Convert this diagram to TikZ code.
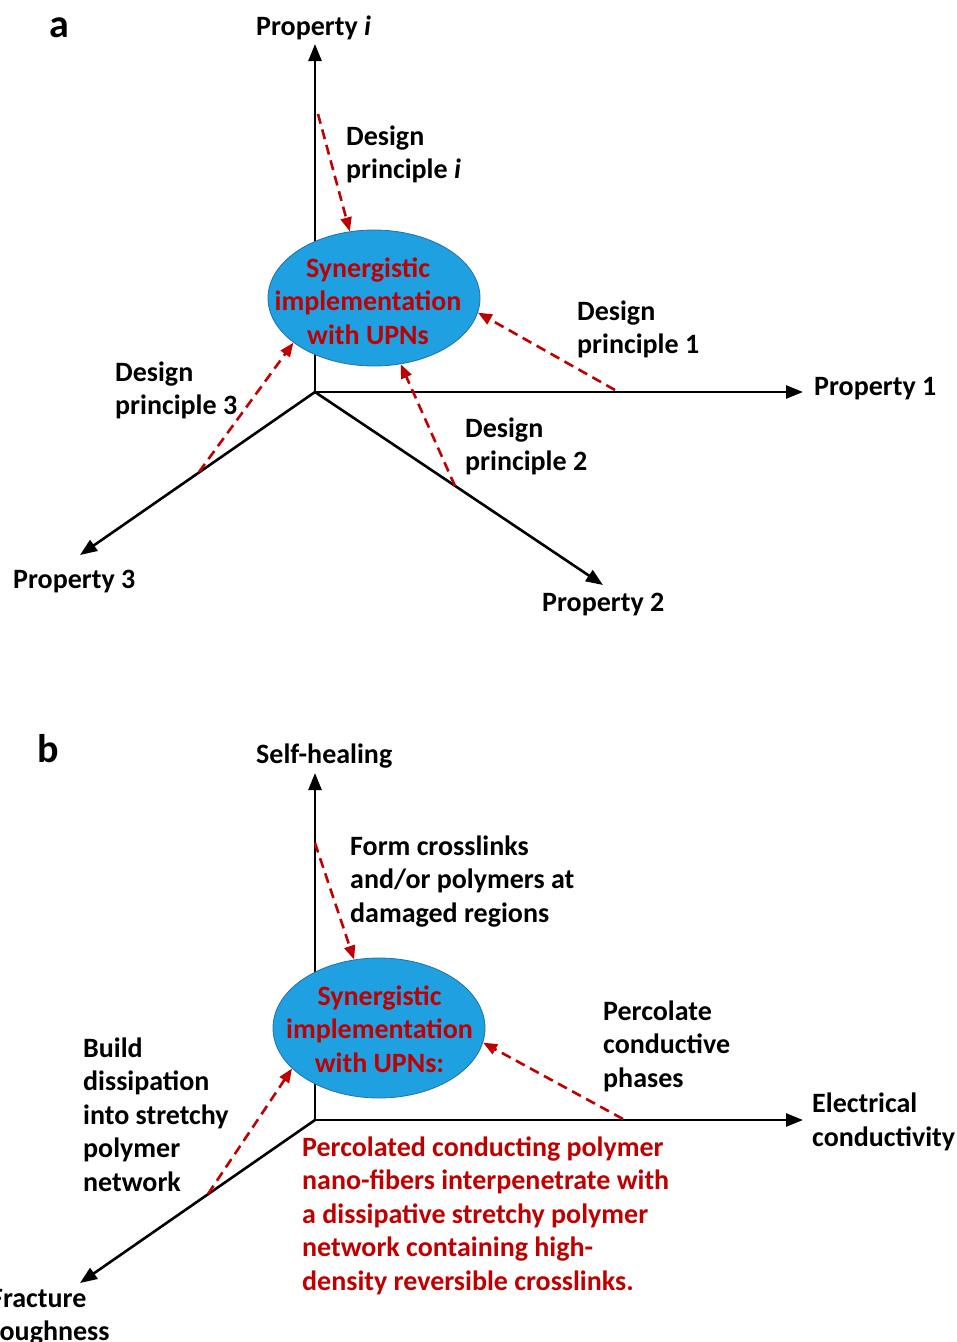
\documentclass[tikz,border=0pt]{standalone}
\usepackage{fontspec}
\setmainfont{Carlito}
\usetikzlibrary{arrows.meta,shapes.geometric}
\definecolor{dred}{RGB}{192,0,0}
\definecolor{ellblue}{RGB}{30,160,225}
\definecolor{ellborder}{RGB}{40,110,170}
\newcommand{\lblfont}{\fontsize{28}{33.5}\selectfont\bfseries}
\newcommand{\panelfont}{\fontsize{40}{48}\selectfont\bfseries}
\begin{document}
\begin{tikzpicture}[x=1pt,y=-1pt,
  axis/.style={line width=2.6pt,-{Triangle[length=17pt,width=13pt]}},
  dprin/.style={dred,line width=2.6pt,dash pattern=on 10pt off 6pt,-{Triangle[length=14pt,width=11pt]}},
  lbl/.style={font=\lblfont,align=left,inner sep=0pt,anchor=north west},
  elltext/.style={font=\lblfont,text=dred,align=center,inner sep=0pt,anchor=north},
  ell/.style={ellipse,fill=ellblue,draw=ellborder,line width=0.8pt,minimum width=212pt,minimum height=136pt,inner sep=0pt},
  panel/.style={font=\panelfont,inner sep=0pt,anchor=base west}
]
\useasboundingbox (0,0) rectangle (957,1342);

% ---------------- panel a ----------------
\node[panel] (pa) at (49,37) {a};
\coordinate (Oa) at (315,392);
\coordinate (Ai) at (315,44);
\coordinate (A1) at (803,392);
\coordinate (A2) at (603,585);
\coordinate (A3) at (80,555);
\draw[axis] (Oa) -- (Ai);
\draw[axis] (Oa) -- (A1);
\draw[axis] (Oa) -- (A2);
\draw[axis] (Oa) -- (A3);

\node[ell] (e1) at (374,298) {};
\node[elltext] (t1) at (368,253.5) {\strut Synergistic\\implementation\\with UPNs};

\coordinate (si) at (318,114);
\coordinate (s1) at (615,390);
\coordinate (s2) at (455,486);
\coordinate (s3) at (199,472);
\draw[dprin] (si) -- (e1.110);
\draw[dprin] (s1) -- (e1.-8);
\draw[dprin] (s2) -- (e1.-68);
\draw[dprin] (s3) -- (e1.-151);

\node[lbl] (lpi) at (256,11.5) {\strut Property \textit{i}};
\node[lbl] (ldi) at (346,121.5) {\strut Design\\principle \textit{i}};
\node[lbl] (ld1) at (577,296.5) {\strut Design\\principle 1};
\node[lbl] (lp1) at (814,371.5) {\strut Property 1};
\node[lbl] (ld3) at (115,357.5) {\strut Design\\principle 3};
\node[lbl] (ld2) at (465,413.5) {\strut Design\\principle 2};
\node[lbl] (lp3) at (13,564.5) {\strut Property 3};
\node[lbl] (lp2) at (542,587.5) {\strut Property 2};

% ---------------- panel b ----------------
\node[panel] (pb) at (37,762) {b};
\coordinate (Ob) at (315,1120);
\coordinate (Bi) at (315,773);
\coordinate (B1) at (803,1120);
\coordinate (B3) at (80,1283);
\draw[axis] (Ob) -- (Bi);
\draw[axis] (Ob) -- (B1);
\draw[axis] (Ob) -- (B3);

\node[ell,minimum height=140pt] (e2) at (379,1028) {};
\node[elltext] (t2) at (379.5,981.5) {\strut Synergistic\\implementation\\with UPNs:};

\coordinate (bi) at (315,843);
\coordinate (b1) at (623,1119);
\coordinate (b3) at (208,1194);
\draw[dprin] (bi) -- (e2.110);
\draw[dprin] (b1) -- (e2.-8);
\draw[dprin] (b3) -- (e2.-155);

\node[lbl] (lsh) at (256,739.5) {\strut Self-healing};
\node[lbl] (lfc) at (350,831.5) {\strut Form crosslinks\\and/or polymers at\\damaged regions};
\node[lbl] (lpc) at (603,996.5) {\strut Percolate\\conductive\\phases};
\node[lbl] (lec) at (812,1089) {\strut Electrical\\conductivity};
\node[lbl] (lbd) at (83,1033.5) {\strut Build\\dissipation\\into stretchy\\polymer\\network};
\node[lbl,text=dred] (lrd) at (302,1132.5) {\strut Percolated conducting polymer\\nano-fibers interpenetrate with\\a dissipative stretchy polymer\\network containing high-\\density reversible crosslinks.};
\node[lbl] (lft) at (-10,1283.5) {\strut Fracture\\toughness};
\end{tikzpicture}
\end{document}
